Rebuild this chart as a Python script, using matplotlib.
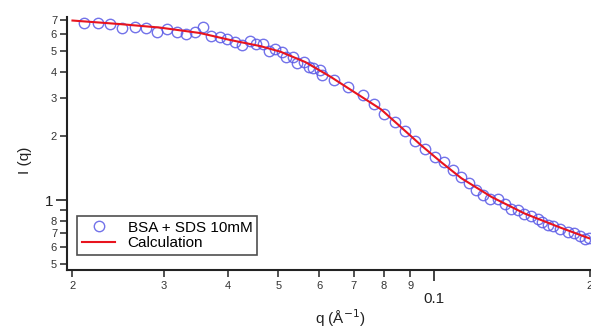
import numpy as np
import matplotlib.pyplot as plt
from matplotlib.ticker import FixedLocator, FixedFormatter

plt.rcParams['font.family'] = ['Liberation Sans', 'DejaVu Sans']

# measured data (BSA + SDS 10mM)
q_data = [0.02101, 0.02236, 0.02367, 0.02498, 0.02643, 0.02772, 0.02908, 0.03049,
          0.03180, 0.03315, 0.03446, 0.03581, 0.03711, 0.03859, 0.03987, 0.04121,
          0.04252, 0.04399, 0.04533, 0.04671, 0.04789, 0.04935, 0.05085, 0.05184,
          0.05342, 0.05438, 0.05601, 0.05727, 0.05841, 0.06017, 0.06060, 0.06405,
          0.06820, 0.07272, 0.07638, 0.08008, 0.08402, 0.08799, 0.09200, 0.09620,
          0.1005, 0.1047, 0.1087, 0.1125, 0.1166, 0.1207, 0.1244, 0.1281,
          0.1330, 0.1370, 0.1407, 0.1450, 0.1494, 0.1538, 0.1585, 0.1614,
          0.1664, 0.1700, 0.1751, 0.1818, 0.1868, 0.1915, 0.1959, 0.1989]
I_data = [6.80, 6.75, 6.70, 6.40, 6.51, 6.40, 6.13, 6.35,
          6.13, 6.02, 6.15, 6.47, 5.91, 5.81, 5.68, 5.52,
          5.34, 5.60, 5.40, 5.40, 5.02, 5.10, 4.97, 4.71,
          4.68, 4.38, 4.46, 4.23, 4.15, 4.08, 3.86, 3.66,
          3.38, 3.11, 2.82, 2.55, 2.32, 2.12, 1.90, 1.73,
          1.60, 1.51, 1.38, 1.28, 1.21, 1.12, 1.056, 1.018,
          1.008, 0.958, 0.914, 0.904, 0.866, 0.841, 0.812, 0.791,
          0.763, 0.758, 0.736, 0.710, 0.698, 0.678, 0.661, 0.668]

# calculated curve
q_calc = [0.0200, 0.02467, 0.02951, 0.03529, 0.04036, 0.04615, 0.05047, 0.05643,
          0.0631, 0.07057, 0.07892, 0.0863, 0.09437, 0.1032, 0.1129, 0.1291,
          0.1496, 0.1741, 0.2000]
I_calc = [6.96, 6.70, 6.45, 6.08, 5.64, 5.28, 4.97, 4.44,
          3.79, 3.18, 2.67, 2.20, 1.81, 1.508, 1.268, 1.036,
          0.866, 0.749, 0.661]

x_minor = [0.02, 0.03, 0.04, 0.05, 0.06, 0.07, 0.08, 0.09, 0.2]
x_minor_labels = ['2', '3', '4', '5', '6', '7', '8', '9', '2']
y_minor = [0.5, 0.6, 0.7, 0.8, 0.9, 2, 3, 4, 5, 6, 7]
y_minor_labels = ['5', '6', '7', '8', '', '2', '3', '4', '5', '6', '7']

fig = plt.figure(figsize=(5.91, 3.27), dpi=100)
ax = fig.add_axes([0.113, 0.174, 0.885, 0.774])

ax.plot(q_data, I_data, 'o', mfc='none', mec='#5a5ae6', mew=1.0, ms=7.5,
        alpha=0.85, label='BSA + SDS 10mM', zorder=2)
ax.plot(q_calc, I_calc, '-', color='#e8141e', lw=1.5, label='Calculation', zorder=3)

ax.set_xscale('log')
ax.set_yscale('log')
ax.set_xlim(0.0195, 0.2)
ax.set_ylim(0.47, 7.23)

ax.xaxis.set_major_locator(FixedLocator([0.1]))
ax.xaxis.set_major_formatter(FixedFormatter(['0.1']))
ax.xaxis.set_minor_locator(FixedLocator(x_minor))
ax.xaxis.set_minor_formatter(FixedFormatter(x_minor_labels))
ax.yaxis.set_major_locator(FixedLocator([1]))
ax.yaxis.set_major_formatter(FixedFormatter(['1']))
ax.yaxis.set_minor_locator(FixedLocator(y_minor))
ax.yaxis.set_minor_formatter(FixedFormatter(y_minor_labels))

ax.tick_params(which='major', length=8, width=1.2, labelsize=11, colors='#222222')
ax.tick_params(which='minor', length=5, width=1.2, labelsize=8, colors='#333333')
ax.tick_params(axis='x', which='major', pad=8)
ax.tick_params(axis='x', which='minor', pad=3)
ax.tick_params(axis='y', which='both', pad=2)

for side in ['top', 'right']:
    ax.spines[side].set_visible(False)
for side in ['left', 'bottom']:
    ax.spines[side].set_linewidth(1.5)
    ax.spines[side].set_color('#222222')

ax.set_ylabel('I (q)', fontsize=11, color='#222222')
ax.set_xlabel('q (Å$^{-1}$)', fontsize=11, color='#222222')
ax.yaxis.set_label_coords(-0.066, 0.435)
ax.xaxis.set_label_coords(0.522, -0.145)

leg = ax.legend(loc='lower left', bbox_to_anchor=(0.02, 0.06), fontsize=11,
                frameon=True, fancybox=False, edgecolor='#222222',
                borderpad=0.3, labelspacing=0.1, handlelength=2.2,
                handletextpad=0.8, borderaxespad=0)
leg.get_frame().set_linewidth(1.2)

fig.savefig('out.png', dpi=100)
